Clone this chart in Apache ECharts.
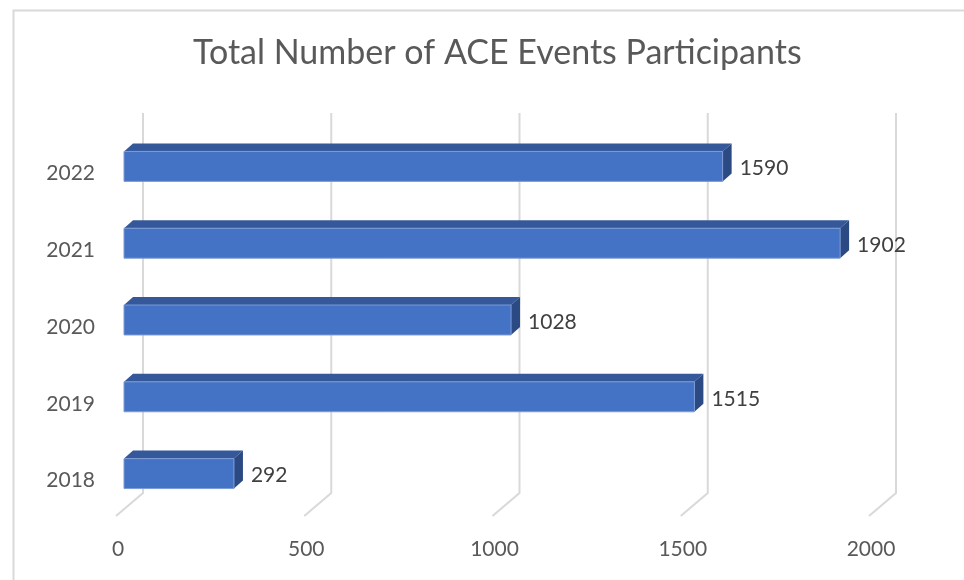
<!DOCTYPE html>
<html>
<head>
<meta charset="utf-8">
<script src="https://cdn.jsdelivr.net/npm/echarts@6/dist/echarts.min.js"></script>
<style>
  html, body { margin: 0; padding: 0; background: #fff; }
  #chart { width: 964px; height: 580px; }
</style>
</head>
<body>
<div id="chart"></div>
<script>
var years = ['2018', '2019', '2020', '2021', '2022'];
var participants = [292, 1515, 1028, 1902, 1590];
var ticks = [0, 500, 1000, 1500, 2000];

var FONT = 'Lato';
var DX = 9, DY = 8;   // bar depth offset

var chart = echarts.init(document.getElementById('chart'));

function renderGrid(params, api) {
  var v = api.value(0);
  var p = api.coord([v, 0]);
  var cs = params.coordSys;
  var top = cs.y - 15, floorBack = cs.y + cs.height - 19, floorFront = cs.y + cs.height + 4;
  return {
    type: 'polyline',
    shape: { points: [[p[0] + 19, top], [p[0] + 19, floorBack], [p[0] - 8, floorFront]] },
    style: { stroke: '#d9d9d9', lineWidth: 2, fill: null }
  };
}

function renderBar(params, api) {
  var v = api.value(1);
  var c = api.value(0);
  var p0 = api.coord([0, c]);
  var p1 = api.coord([v, c]);
  var h = api.size([0, 1])[1] * 0.39;
  var x0 = p0[0], x1 = p1[0], y0 = p0[1] - h / 2, y1 = p0[1] + h / 2;
  return {
    type: 'group',
    children: [
      { type: 'polygon', shape: { points: [[x0, y0], [x0 + DX, y0 - DY], [x1 + DX, y0 - DY], [x1, y0]] },
        style: { fill: '#34589a' } },
      { type: 'polygon', shape: { points: [[x1, y0], [x1 + DX, y0 - DY], [x1 + DX, y1 - DY], [x1, y1]] },
        style: { fill: '#2b4a84' } },
      { type: 'rect', shape: { x: x0, y: y0, width: x1 - x0, height: h },
        style: { fill: '#4472c4', stroke: '#7d9bd6', lineWidth: 1 } },
      { type: 'text', x: x1 + DX + 8, y: p0[1] + 2,
        style: { text: String(v), fill: '#404040', font: '21px ' + FONT, verticalAlign: 'middle', align: 'left' } }
    ]
  };
}

chart.setOption({
  animation: false,
  backgroundColor: '#fff',
  title: {
    text: 'Total Number of ACE Events Participants',
    left: 188, top: 31,
    textStyle: { color: '#595959', fontSize: 34, fontWeight: 'normal', fontFamily: FONT }
  },
  graphic: [{
    type: 'rect', left: 11, top: 8, shape: { width: 1000, height: 1000 },
    style: { fill: null, stroke: '#d9d9d9', lineWidth: 2 }, silent: true
  }],
  grid: { left: 124, width: 753, top: 128, height: 384 },
  xAxis: {
    type: 'value', min: 0, max: 2000, interval: 500,
    splitLine: { show: false }, axisLine: { show: false }, axisTick: { show: false },
    axisLabel: { color: '#595959', fontSize: 21, fontFamily: FONT, margin: 27, padding: [0, 12, 0, 0],
      formatter: function (v) { return String(v); } }
  },
  yAxis: {
    type: 'category', data: years,
    axisLine: { show: false }, axisTick: { show: false },
    axisLabel: { color: '#595959', fontSize: 21, fontFamily: FONT, margin: 29,
      verticalAlign: 'top', lineHeight: 14 }
  },
  series: [
    { type: 'custom', renderItem: renderGrid, data: ticks.map(function (t) { return [t]; }), z: 1, silent: true },
    { type: 'custom', renderItem: renderBar,
      encode: { x: 1, y: 0 },
      data: years.map(function (y, i) { return [i, participants[i]]; }), z: 2 }
  ]
});
</script>
</body>
</html>
